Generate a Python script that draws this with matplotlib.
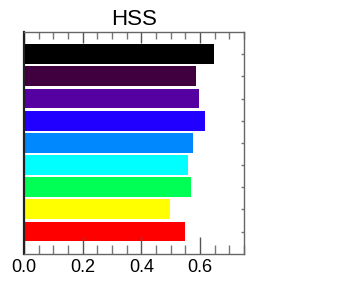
import matplotlib
matplotlib.use("Agg")
import matplotlib.pyplot as plt
from matplotlib.ticker import MultipleLocator, FixedLocator

# data (bottom to top)
positions = [0, 1, 2, 3, 4, 5, 6, 7, 8]
hss = [0.548, 0.498, 0.568, 0.558, 0.577, 0.618, 0.598, 0.588, 0.647]
colors = ["#ff0000", "#ffff00", "#00ff55", "#00ffff", "#0088ff",
          "#2200ff", "#5500a0", "#400040", "#000000"]
xticks = [0.0, 0.2, 0.4, 0.6]
xlabels = ["0.0", "0.2", "0.4", "0.6"]

plt.rcParams['font.family'] = ['Liberation Sans', 'DejaVu Sans']

fig = plt.figure(figsize=(3.47, 2.98), dpi=100)
ax = fig.add_axes([0.0692, 0.1487, 0.634, 0.7439])

ax.barh(positions, hss, height=0.9, color=colors, edgecolor="none")

ax.set_xlim(0, 0.75)
ax.set_ylim(-1, 9)
ax.set_title("HSS", fontsize=16, pad=5)

ax.xaxis.set_major_locator(FixedLocator(xticks))
ax.set_xticklabels(xlabels, fontsize=13)
ax.xaxis.set_minor_locator(MultipleLocator(0.05))
ax.tick_params(axis="x", which="major", direction="in", length=12,
               width=1, color="#555555", pad=4, top=False)
ax.tick_params(axis="x", which="minor", direction="in", length=6.5,
               width=1, color="#777777", top=False)

top = ax.secondary_xaxis("top")
top.xaxis.set_major_locator(FixedLocator(xticks))
top.xaxis.set_minor_locator(MultipleLocator(0.05))
top.set_xticklabels([])
top.tick_params(which="major", direction="in", length=8, width=1, color="#555555")
top.tick_params(which="minor", direction="in", length=5, width=1, color="#777777")
top.spines["top"].set_visible(False)

ax.yaxis.set_major_locator(FixedLocator(positions))
ax.tick_params(axis="y", left=False, right=True, labelleft=False,
               direction="in", length=2, width=1, color="#777777")

ax.spines["left"].set_linewidth(1.6)
ax.spines["left"].set_color("#222222")
for s in ["right", "top", "bottom"]:
    ax.spines[s].set_linewidth(1)
    ax.spines[s].set_color("#666666")

fig.savefig("out.png", dpi=100)
